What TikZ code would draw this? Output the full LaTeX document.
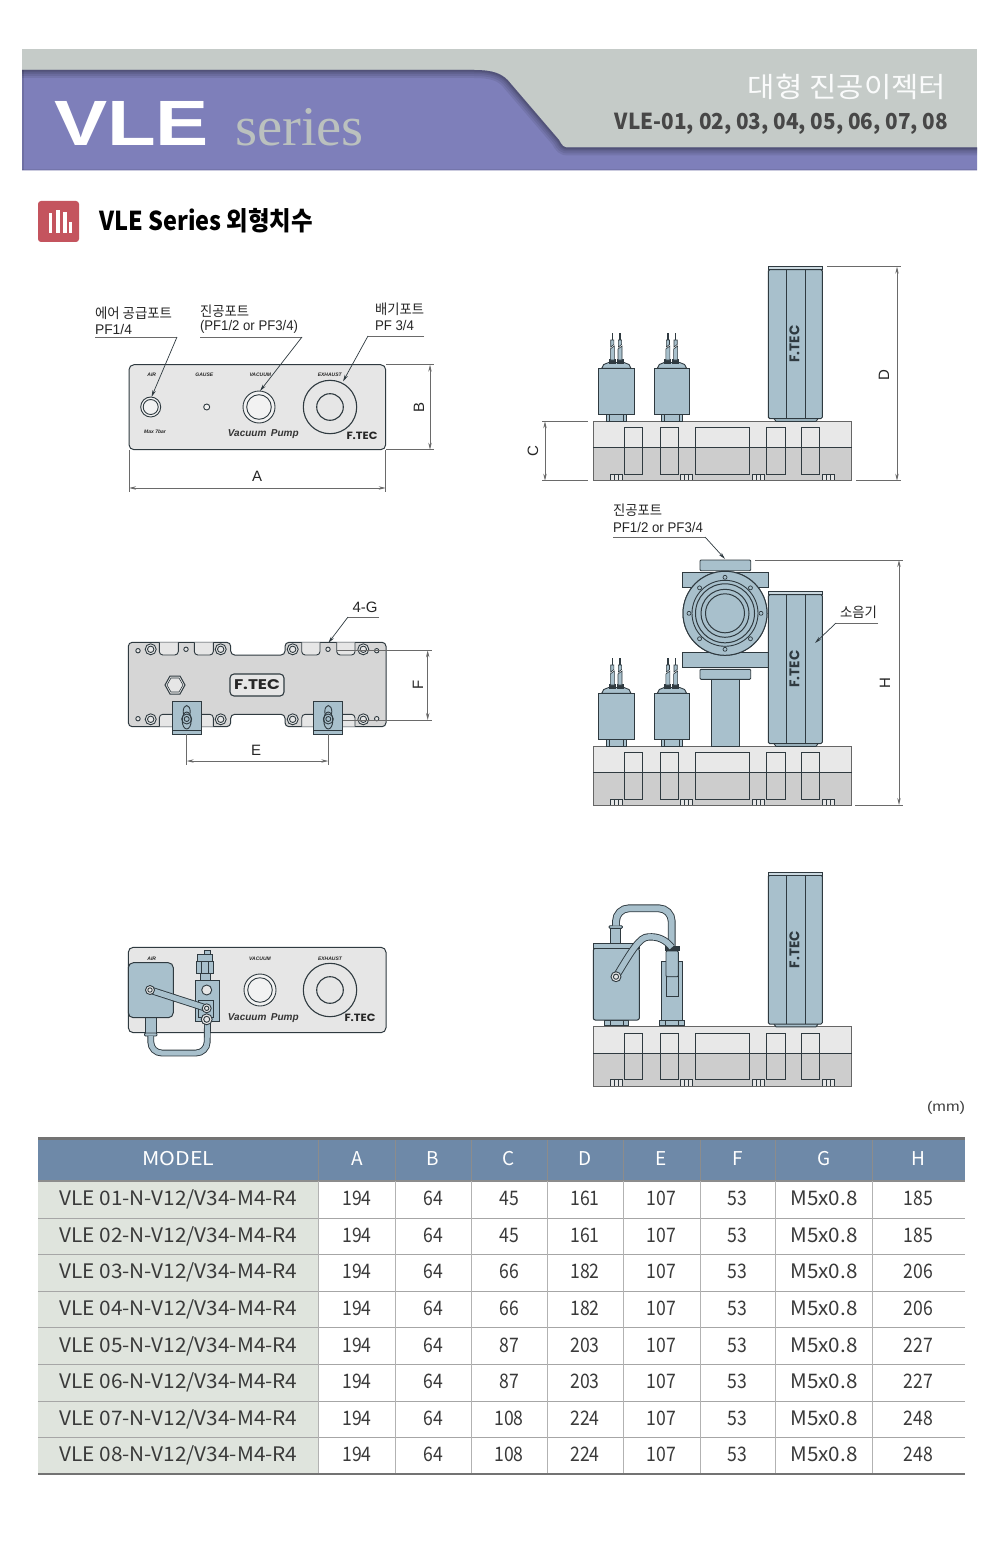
\documentclass[tikz,border=0pt]{standalone}
\usepackage{graphicx}
\usepackage{fontspec}
\setmainfont{Liberation Sans}
\newfontfamily\kr{Noto Sans CJK KR}
\newfontfamily\serifx{Liberation Serif}
\newfontfamily\logo{Poppins}
\usetikzlibrary{arrows.meta,calc}
\definecolor{bannergrey}{HTML}{C5CBC8}
\definecolor{bannerpurple}{HTML}{7E7FBA}
\definecolor{iconred}{HTML}{C4545E}
\definecolor{partblue}{HTML}{A8C0CC}
\definecolor{partline}{HTML}{2F3A40}
\definecolor{dimgrey}{HTML}{6A6A6A}
\definecolor{plate}{HTML}{E6E6E6}
\definecolor{plateb}{HTML}{D6D6D6}
\definecolor{basetop}{HTML}{E8E8E8}
\definecolor{basebot}{HTML}{CDCDCD}
\definecolor{headblue}{HTML}{6E89A8}
\definecolor{modelbg}{HTML}{DFE4DD}
\definecolor{tabletext}{HTML}{3A3A3A}
\newcommand\fitx[2]{\resizebox{#1}{\height}{#2}}
\newcommand\ftec[2]{\resizebox{#2}{\height}{\logo\bfseries\fontsize{#1}{#1}\selectfont F.TEC}}
\tikzset{
  x=1pt,y=-1pt,
  part/.style={draw=partline,fill=partblue,line width=.9pt},
  inner/.style={draw=partline,line width=.9pt},
  platebox/.style={draw=partline,fill=plate,line width=1pt,rounded corners=5pt},
  ring/.style={draw=partline,line width=.9pt,fill=none},
  dimline/.style={draw=dimgrey,line width=.75pt},
  dimarrow/.style={draw=dimgrey,line width=.75pt,{Stealth[length=7pt,width=3.4pt]}-{Stealth[length=7pt,width=3.4pt]}},
  leader/.style={draw=dimgrey,line width=.75pt},
  leaderarrow/.style={draw=partline,line width=.7pt,-{Stealth[length=7pt,width=3.4pt]}},
  txt/.style={inner sep=0pt,outer sep=0pt,text=black!85},
  small/.style={txt,font=\itshape\bfseries\fontsize{5}{5}\selectfont},
  dimtext/.style={txt,font=\fontsize{15}{15}\selectfont},
  labeltxt/.style={txt,anchor=west,font=\fontsize{14}{14}\selectfont},
  vp/.style={txt,font=\itshape\bfseries\fontsize{10}{10}\selectfont,text=black!80},
  head/.style={inner sep=0pt,text=white,font=\kr\fontsize{19}{19}\selectfont},
  cell/.style={inner sep=0pt,anchor=base,text=tabletext,font=\kr\fontsize{20}{20}\selectfont},
}
\newcommand\hosepath[2]{\draw[partline,line width=#1+1.8pt,line cap=butt] #2; \draw[partblue,line width=#1,line cap=butt] #2;}
% base block with y offset
\newcommand\baseblock[1]{
  \begin{scope}[yshift=-#1pt]
    \fill[basetop] (593.3,421.3) rectangle (851.7,447.7);
    \fill[basebot] (593.3,447.7) rectangle (851.7,480.7);
    \foreach \a/\b in {610.3/622.3,680.3/692.7,752.3/764.3,822.3/834.3}{
      \draw[inner,line width=.7pt,fill=plate] (\a,474) rectangle (\b,480.7);
      \draw[inner,line width=.6pt] ({\a+4},474) -- ({\a+4},480.7) ({\a+8},474) -- ({\a+8},480.7);
    }
    \draw[draw=black!60,line width=.9pt] (593.3,421.3) rectangle (851.7,480.7);
    \draw[inner,line width=1pt] (593.3,447.7) -- (851.7,447.7);
    \foreach \a/\b in {624.7/642.7,660.3/678,695.3/749.7,766.7/785.3,801.7/819.7}{
      \draw[inner,line width=1pt] (\a,427.7) rectangle (\b,474);
    }
  \end{scope}
}
\newcommand\solenoid[3]{% left x, dy, foot inset
  \begin{scope}[xshift=#1pt,yshift=-#2pt]
    \draw[part] (#3,414.3) rectangle ({35.3-#3},421);
    \draw[inner] (#3+3.5,414.3) -- (#3+3.5,421) ({35.3-#3-3.5},414.3) -- ({35.3-#3-3.5},421);
    \draw[part] (3,368.3) -- (5,364.5) -- (10,362.5) -- (25.3,362.5) -- (30.3,364.5) -- (32.3,368.3) -- cycle;
    \foreach \w in {13.6,21.3}{
      \draw[part,fill=partline] ({\w-3},359.5) rectangle ({\w+3},363);
      \draw[part,line width=.6pt] ({\w-2},349) -- ({\w+2},346) -- ({\w+2},360) -- ({\w-2},360) -- cycle;
      \draw[part,line width=.6pt] ({\w-1.6},347) -- ({\w-1.6},340) -- ({\w+1.6},340) -- ({\w+1.6},344.5) -- cycle;
      \draw[partline,line width=1.4pt] (\w,333) -- (\w,340);
    }
    \draw[part,line width=1pt] (0,368.3) rectangle (35.3,414.3);
  \end{scope}
}
\newcommand\silencer[1]{
  \begin{scope}[yshift=-#1pt]
    \draw[part] (774,418.7) -- (776,421.3) -- (816,421.3) -- (818,418.7);
    \draw[part,line width=1pt,rounded corners=1.5pt] (768.3,269.5) -- (768.3,418.7) -- (822.3,418.7) -- (822.3,269.5) -- cycle;
    \draw[inner,fill=partblue!60] (768.3,266.7) rectangle (822.3,269.5);
    \draw[inner,line width=1pt] (786,269.5) -- (786,418.7) (805,269.5) -- (805,418.7);
    \node[rotate=90,inner sep=0pt,text=partline] at (794.5,344) {\ftec{14}{37pt}};
  \end{scope}
}
\begin{document}
\begin{tikzpicture}
\useasboundingbox (0,0) rectangle (1000,1554);
\fill[white] (0,0) rectangle (1000,1554);
% ===== banner =====
\fill[bannergrey] (22,49) rectangle (977,170.5);
\def\purplepath{(22,70) -- (474,70) .. controls (492,70) and (503,73) .. (511,84) -- (559,140) .. controls (562,146) and (564,147.5) .. (568,147.5) -- (977,147.5) -- (977,170.5) -- (22,170.5) -- cycle}
\def\shadepath{(22,70) -- (474,70) .. controls (492,70) and (503,73) .. (511,84) -- (559,140) .. controls (562,146) and (564,147.5) .. (568,147.5) -- (977,147.5)}
\fill[bannerpurple] \purplepath;
\begin{scope}
  \clip \purplepath;
  \foreach \w in {16,12,8,5,3}{\draw[black,opacity=.08,line width=\w pt] \shadepath;}
  \draw[black,opacity=.12,line width=3pt] (22,70) -- (22,170.5);
  \draw[black,opacity=.08,line width=2pt] (22,170.5) -- (977,170.5);
\end{scope}
\node[txt,anchor=west,text=white] (vle) at (54,123.5) {\fitx{155pt}{\bfseries\fontsize{64}{64}\selectfont VLE}};
\node[txt,anchor=west,text=bannergrey!95!black] (series) at (235,127) {\fitx{129pt}{\serifx\fontsize{56}{56}\selectfont series}};
\node[txt,anchor=east,text=white!92!bannergrey] (kor) at (946,87) {\fitx{198pt}{\kr\fontsize{28}{28}\selectfont 대형 진공이젝터}};
\node[txt,anchor=east,text=black!72] (models) at (948,124) {\fitx{333pt}{\kr\bfseries\fontsize{22}{22}\selectfont VLE-01, 02, 03, 04, 05, 06, 07, 08}};
% ===== section title =====
\fill[iconred,rounded corners=3pt] (38,201) rectangle (79,242);
\foreach \a/\b/\t in {48.5/52/213,55.5/59.5/210,62.5/66.5/212,69/72/222}{\fill[white] (\a,\t) rectangle (\b,233);}
\node[txt,anchor=west,text=black] (title) at (99,220.5) {\fitx{214pt}{\kr\bfseries\fontsize{26}{26}\selectfont VLE Series 외형치수}};

% ===== plate 1 =====
\draw[platebox] (129,364.7) rectangle (385.7,449.7);
\draw[ring,fill=white!50!plate] (150.7,407) circle[radius=10];
\draw[ring] (150.7,407) circle[radius=7.5];
\draw[ring,fill=white!50!plate] (206.7,407) circle[radius=3];
\draw[ring,fill=white!50!plate] (259,407) circle[radius=16];
\draw[ring] (259,407) circle[radius=12.3];
\draw[ring,line width=1.1pt] (330,407) circle[radius=26.7];
\draw[ring,line width=1.1pt] (330,407) circle[radius=13.3];
\node[small] (p1air) at (151.7,375) {AIR};
\node[small] (p1gauge) at (204.3,375) {GAUSE};
\node[small] (p1vac) at (260.3,375) {VACUUM};
\node[small] (p1exh) at (329.7,375) {EXHAUST};
\node[small] (p1max) at (155,431.7) {Max 7bar};
\node[vp] (p1vp) at (263.3,434.5) {Vacuum\, Pump};
\node[txt,text=black!85] (p1f) at (362,435.5) {\ftec{10.5}{31pt}};
% leaders plate 1
\node[labeltxt] (l1a) at (95,313) {\fitx{77pt}{\kr\fontsize{14}{14}\selectfont 에어 공급포트}};
\node[labeltxt] (l1b) at (95,329) {\fitx{37pt}{PF1/4}};
\node[labeltxt] (l2a) at (200,311) {\fitx{49pt}{\kr\fontsize{14}{14}\selectfont 진공포트}};
\node[labeltxt] (l2b) at (200,327) {\fitx{98pt}{(PF1/2 or PF3/4)}};
\node[labeltxt] (l3a) at (375,309) {\fitx{49pt}{\kr\fontsize{14}{14}\selectfont 배기포트}};
\node[labeltxt] (l3b) at (375,325) {\fitx{39pt}{PF 3/4}};
\coordinate (c1a) at (95,337); \coordinate (c1b) at (177,337); \coordinate (c1c) at (151.5,397);
\coordinate (c2a) at (200,337); \coordinate (c2b) at (302,337); \coordinate (c2c) at (260,391);
\coordinate (c3a) at (424,336); \coordinate (c3b) at (368,336); \coordinate (c3c) at (343,381.5);
\draw[leader] (c1a) -- (c1b); \draw[leaderarrow] (c1b) -- (c1c);
\draw[leader] (c2a) -- (c2b); \draw[leaderarrow] (c2b) -- (c2c);
\draw[leader] (c3a) -- (c3b); \draw[leaderarrow] (c3b) -- (c3c);
% dims plate 1
\coordinate (bt0) at (386,364.7); \coordinate (bt1) at (434,364.7);
\coordinate (bb0) at (386,449.7); \coordinate (bb1) at (434,449.7);
\coordinate (bu) at (430,364.7); \coordinate (bd) at (430,449.7);
\draw[dimline] (bt0) -- (bt1); \draw[dimline] (bb0) -- (bb1); \draw[dimarrow] (bu) -- (bd);
\node[dimtext,rotate=90] (dimB) at (419,407) {B};
\coordinate (al0) at (129,450); \coordinate (al1) at (129,492);
\coordinate (ar0) at (385.7,450); \coordinate (ar1) at (385.7,492);
\coordinate (am0) at (129,488); \coordinate (am1) at (385.7,488);
\draw[dimline] (al0) -- (al1); \draw[dimline] (ar0) -- (ar1); \draw[dimarrow] (am0) -- (am1);
\node[dimtext] (dimA) at (257,476) {A};

% ===== plate 2 =====
\draw[draw=partline,fill=plateb,line width=1pt,rounded corners=4pt] (128.3,642.3) -- (230.7,642.3) -- (230.7,655) -- (285,655) -- (285,642.3) -- (386,642.3) -- (386,726.7) -- (285,726.7) -- (285,714.3) -- (230.7,714.3) -- (230.7,726.7) -- (128.3,726.7) -- cycle;
\foreach \a/\b in {159.3/178.3,194.3/213.3,301.7/320,336.7/355}{
  \draw[inner,fill=plate,rounded corners=3.5pt] (\a,642.3) -- (\a,655) -- (\b,655) -- (\b,642.3);
  \draw[inner,fill=plate,rounded corners=3.5pt] (\a,726.7) -- (\a,714.3) -- (\b,714.3) -- (\b,726.7);
}
\foreach \a in {150.7,220.7,292.7,363.3}{
  \foreach \b in {649.3,719.3}{
    \draw[ring,fill=plate] (\a,\b) circle[radius=5.5];
    \draw[ring] (\a,\b) circle[radius=3.2];
  }
}
\foreach \a/\b in {138/650.7,186/649.3,328/649.3,376.7/650.7,138/718.7,376.7/718.7}{\draw[ring,fill=plate] (\a,\b) circle[radius=2.2];}
\draw[inner,fill=plate,line width=1pt] (165,685) -- (170,676) -- (180,676) -- (185,685) -- (180,694) -- (170,694) -- cycle;
\draw[inner,line width=.6pt] (167,685) -- (171,678) -- (179,678) -- (183,685) -- (179,692) -- (171,692) -- cycle;
\draw[draw=partline,fill=plate,line width=1.1pt,rounded corners=4pt] (230,674) rectangle (284,696);
\node[txt,text=black!85] (p2f) at (257,685) {\ftec{14}{46pt}};
\foreach \a in {186.7,328.3}{
  \draw[part,line width=1pt] ({\a-14.4},701.7) rectangle ({\a+14.4},734);
  \draw[inner] ({\a-14.4},730) -- ({\a+14.4},730);
  \draw[ring,fill=partblue] (\a,711.5) ellipse[x radius=3.5,y radius=6];
  \draw[ring,fill=partblue] (\a,720.5) ellipse[x radius=4.5,y radius=8.5];
  \draw[ring] (\a,719) circle[radius=5];
  \draw[ring] (\a,719) circle[radius=2.5];
}
\coordinate (f0) at (337,650.3); \coordinate (f1) at (432,650.3);
\coordinate (f2) at (343,720); \coordinate (f3) at (432,720);
\coordinate (fu) at (427.7,650.3); \coordinate (fd) at (427.7,720);
\draw[dimline] (f0) -- (f1); \draw[dimline] (f2) -- (f3); \draw[dimarrow] (fu) -- (fd);
\node[dimtext,rotate=90] (dimF) at (418,685) {F};
\coordinate (e0) at (186.7,734); \coordinate (e1) at (186.7,765);
\coordinate (e2) at (328.3,734); \coordinate (e3) at (328.3,765);
\coordinate (eu) at (186.7,761); \coordinate (ev) at (328.3,761);
\draw[dimline] (e0) -- (e1); \draw[dimline] (e2) -- (e3); \draw[dimarrow] (eu) -- (ev);
\node[dimtext] (dimE) at (256,750) {E};
\node[dimtext] (fourG) at (365,607) {4-G};
\coordinate (g0) at (379,617); \coordinate (g1) at (348,617); \coordinate (g2) at (328.3,643);
\draw[leader] (g0) -- (g1); \draw[leaderarrow] (g1) -- (g2);

% ===== plate 3 =====
\draw[platebox] (128.3,947.3) rectangle (386,1032.7);
\draw[ring,fill=white!50!plate] (260,990) circle[radius=16];
\draw[ring] (260,990) circle[radius=12.3];
\draw[ring,line width=1.1pt] (330,990) circle[radius=26.7];
\draw[ring,line width=1.1pt] (330,990) circle[radius=13.3];
\node[small] (p3air) at (151.7,958.3) {AIR};
\node[small] (p3vac) at (260,958.3) {VACUUM};
\node[small] (p3exh) at (330,958.3) {EXHAUST};
\node[vp] (p3vp) at (263.3,1017.7) {Vacuum\, Pump};
\node[txt,text=black!85] (p3f) at (360,1018) {\ftec{10.5}{31pt}};
\draw[part] (145.7,1017.7) rectangle (156,1033);
\draw[part,rounded corners=1pt] (144.5,1033) rectangle (157,1036);
\hosepath{5pt}{[rounded corners=11pt] (150.8,1036) -- (150.8,1053) -- (207,1053) -- (207.5,1022)}
\draw[part,rounded corners=5pt,line width=1pt] (128.3,962.7) rectangle (173.3,1017.7);
\draw[part] (204,950) rectangle (210,954);
\draw[part] (197.7,954) rectangle (212.3,961.7);
\draw[part] (196,961.7) rectangle (213.3,973.3);
\draw[inner] (201,961.7) -- (201,973.3) (208,961.7) -- (208,973.3);
\draw[part] (200,973.3) rectangle (210,980);
\draw[part,line width=1pt] (195.7,980) rectangle (219,1021.7);
\draw[ring,fill=plate] (206.7,990) circle[radius=5];
\draw[inner] (198.5,1000) rectangle (213.5,1017);
\draw[ring,fill=plate] (206.7,1019.3) circle[radius=5.5];
\draw[ring] (206.7,1019.3) circle[radius=3];
\hosepath{5.5pt}{(150,990) -- (206.7,1008.3)}
\draw[ring,fill=plate] (150,990) circle[radius=4.5];
\draw[ring] (150,990) circle[radius=2.2];
\draw[ring,fill=plate] (206.7,1008.3) circle[radius=4.5];
\draw[ring] (206.7,1008.3) circle[radius=2.2];

% ===== right view 1 =====
\baseblock{0}
\solenoid{598.7}{0}{7.3}
\solenoid{654.3}{0}{6.7}
\silencer{0}
\coordinate (d0) at (827,266.7); \coordinate (d1) at (901,266.7);
\coordinate (d2) at (856,480.7); \coordinate (d3) at (901,480.7);
\coordinate (du) at (897,266.7); \coordinate (dd) at (897,480.7);
\draw[dimline] (d0) -- (d1); \draw[dimline] (d2) -- (d3); \draw[dimarrow] (du) -- (dd);
\node[dimtext,rotate=90] (dimD) at (884,375) {D};
\coordinate (ct0) at (542,421.3); \coordinate (ct1) at (588,421.3);
\coordinate (cb0) at (542,480.7); \coordinate (cb1) at (588,480.7);
\coordinate (cu) at (545,421.3); \coordinate (cd) at (545,480.7);
\draw[dimline] (ct0) -- (ct1); \draw[dimline] (cb0) -- (cb1); \draw[dimarrow] (cu) -- (cd);
\node[dimtext,rotate=90] (dimC) at (533,451) {C};

% ===== right view 2 =====
\baseblock{325}
\solenoid{598.7}{325}{7.3}
\solenoid{654.3}{325}{6.7}
\draw[part] (711,679) rectangle (739.3,746);
\draw[part,rounded corners=1pt] (700,669.3) rectangle (750.7,679.3);
\draw[part,rounded corners=1pt] (700,560) rectangle (750.7,570.7);
\draw[part] (682,572.3) rectangle (768.3,587.3);
\draw[part] (682,652.3) rectangle (768.3,667.3);
\silencer{325}
\foreach \ang in {0,45,...,315}{\draw[part,line width=.7pt] ($(725,613.3)+(\ang:36)$) circle[radius=2];}
\draw[part,line width=1pt,fill=none] (725,613.3) circle[radius=42];
\draw[part,line width=1pt] (725,613.3) circle[radius=42];
\foreach \ang in {0,45,...,315}{\draw[part,line width=.7pt] ($(725,613.3)+(\ang:36)$) circle[radius=2];}
\draw[ring,fill=partblue] (725,613.3) circle[radius=33];
\draw[ring,line width=1pt] (725,613.3) circle[radius=29.5];
\draw[ring,line width=1pt] (725,613.3) circle[radius=24];
\draw[ring,line width=1pt] (725,613.3) circle[radius=19.5];
\node[labeltxt] (l4a) at (613,510) {\fitx{49pt}{\kr\fontsize{14}{14}\selectfont 진공포트}};
\node[labeltxt] (l4b) at (613,527) {\fitx{90pt}{PF1/2 or PF3/4}};
\coordinate (c4a) at (613,537); \coordinate (c4b) at (705,537); \coordinate (c4c) at (725,559);
\draw[leader] (c4a) -- (c4b); \draw[leaderarrow] (c4b) -- (c4c);
\node[labeltxt] (l5) at (840,612) {\fitx{37pt}{\kr\fontsize{14}{14}\selectfont 소음기}};
\coordinate (c5a) at (878,623); \coordinate (c5b) at (836,623); \coordinate (c5c) at (815,643);
\draw[leader] (c5a) -- (c5b); \draw[leaderarrow] (c5b) -- (c5c);
\coordinate (h0) at (755,560); \coordinate (h1) at (903,560);
\coordinate (h2) at (855,805); \coordinate (h3) at (903,805);
\coordinate (hu) at (899,560); \coordinate (hd) at (899,805);
\draw[dimline] (h0) -- (h1); \draw[dimline] (h2) -- (h3); \draw[dimarrow] (hu) -- (hd);
\node[dimtext,rotate=90] (dimH) at (885,683) {H};

% ===== right view 3 =====
\baseblock{605.5}
\silencer{605.5}
\draw[part] (604.3,1020) rectangle (628.7,1025.7);
\draw[inner] (610,1020) -- (610,1025.7) (623,1020) -- (623,1025.7);
\draw[part] (659.3,1020) rectangle (684.3,1025.7);
\draw[inner] (665,1020) -- (665,1025.7) (678,1020) -- (678,1025.7);
\draw[part] (610.7,928.3) rectangle (620.7,943.3);
\draw[part,rounded corners=1pt] (609,925.7) rectangle (622.5,928.3);
\hosepath{6pt}{[rounded corners=13pt] (616,925.7) -- (616,908.3) -- (671.7,908.3) -- (671.7,947)}
\draw[part,line width=1pt,rounded corners=2pt] (593.3,948.3) -- (593.3,1020) -- (639.3,1020) -- (639.3,948.3) -- cycle;
\draw[inner,fill=partblue] (593.3,943.3) rectangle (639.3,948.3);
\draw[part,line width=1pt] (661.3,961) rectangle (682.7,1020);
\draw[inner] (666,976.7) rectangle (678.3,996.7);
\draw[part,rounded corners=1pt] (666,951) rectangle (678.3,976.7);
\draw[part,fill=partline] (665,946) rectangle (679,950);
\hosepath{5.5pt}{(616,976.7) .. controls (632,950) and (640,937) .. (648,937) .. controls (658,936) and (666,940) .. (671.7,947.5)}
\draw[ring,fill=plate] (616,976.7) circle[radius=5];
\draw[ring] (616,976.7) circle[radius=2.6];

\node[txt,anchor=east,font=\fontsize{14}{14}\selectfont,text=black!75] (mm) at (965,1108) {\fitx{38pt}{(mm)}};

% ===== table =====
\fill[headblue] (38,1138) rectangle (965,1181);
\fill[black!55] (38,1137) rectangle (965,1140);
\fill[black!45] (38,1180) rectangle (965,1182);
\fill[modelbg] (38,1182) rectangle (318,1474);
\foreach \y in {1218,1254.5,1291,1327.5,1364,1401,1437.5}{\draw[black!35,line width=.8pt] (38,\y) -- (965,\y);}
\foreach \x in {318,395,471,547,623,700,775,872}{
  \draw[black!45,line width=.6pt] (\x,1140) -- (\x,1181);
  \draw[black!30,line width=.6pt] (\x,1181) -- (\x,1474);
}
\draw[black!55,line width=1.4pt] (38,1474) -- (965,1474);
\node[head] (hmodel) at (178.5,1159) {\fitx{72pt}{MODEL}};
\foreach \n/\x in {A/357,B/433,C/509,D/585,E/661.5,F/737.5,G/824,H/918.5}{
  \node[head] (h\n) at (\x,1159) {\n};
}
\foreach \m/\y/\c/\d/\h in {1/1205.5/45/161/185,2/1242/45/161/185,3/1278.5/66/182/206,4/1315.5/66/182/206,5/1352/87/203/227,6/1388.5/87/203/227,7/1425/108/224/248,8/1461.5/108/224/248}{
  \node[cell] (m\m) at (178.5,\y) {\fitx{238pt}{VLE 0\m-N-V12/V34-M4-R4}};
  \node[cell] (a\m) at (357,\y) {\scalebox{.88}[1]{194}};
  \node[cell] (b\m) at (433,\y) {\scalebox{.88}[1]{64}};
  \node[cell] (c\m) at (509,\y) {\scalebox{.88}[1]{\c}};
  \node[cell] (d\m) at (585,\y) {\scalebox{.88}[1]{\d}};
  \node[cell] (e\m) at (661.5,\y) {\scalebox{.88}[1]{107}};
  \node[cell] (f\m) at (737.5,\y) {\scalebox{.88}[1]{53}};
  \node[cell] (g\m) at (824,\y) {\fitx{67pt}{M5x0.8}};
  \node[cell] (k\m) at (918.5,\y) {\scalebox{.88}[1]{\h}};
}
\end{tikzpicture}
\end{document}
